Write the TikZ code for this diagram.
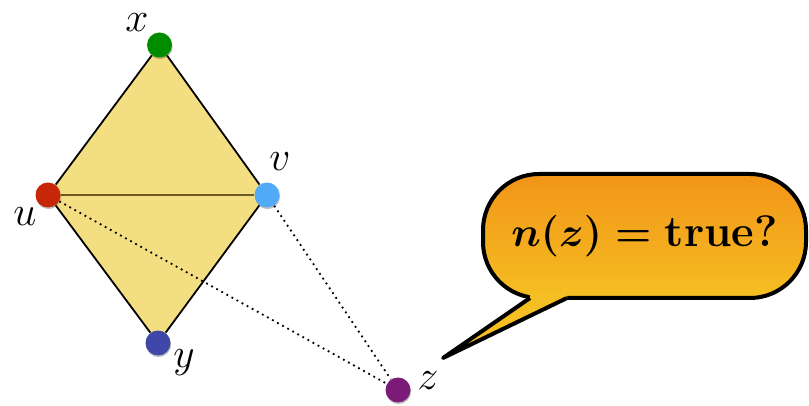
\documentclass[tikz,border=0pt]{standalone}
\usepackage{tikz}
\usetikzlibrary{positioning, calc, shadows, backgrounds}
\definecolor{kitefill}{HTML}{F3DF82}
\definecolor{midline}{HTML}{6B5B1E}
\definecolor{dotgreen}{HTML}{008C00}
\definecolor{dotred}{HTML}{C82609}
\definecolor{dotsky}{HTML}{52A9F7}
\definecolor{dotnavy}{HTML}{3F48A8}
\definecolor{dotplum}{HTML}{7B1A79}
\definecolor{bubtop}{HTML}{F29418}
\definecolor{bubbot}{HTML}{F5BE22}
\tikzset{
  vtx/.style={circle, inner sep=0pt, minimum size=12.5pt,
    drop shadow={shadow xshift=0.3pt, shadow yshift=-0.8pt, opacity=0.25, fill=black}},
  lbl/.style={font=\fontsize{21}{24}\selectfont, inner sep=0pt},
  side/.style={line width=0.9pt, draw=black},
  hint/.style={dotted, line width=0.9pt},
  bubble/.style={draw=black, line width=2pt, rounded corners=28pt,
    top color=bubtop, bottom color=bubbot, minimum width=161.5pt,
    minimum height=62pt, inner sep=0pt, outer sep=0pt,
    font=\fontsize{22}{26}\selectfont\boldmath},
}

\begin{document}
\begin{tikzpicture}[x=0.5pt, y=-0.5pt]
  \useasboundingbox (0,0) rectangle (809,406);
  % vertices
  \node[vtx, fill=dotgreen] (x) at (159.5,45) {};
  \node[vtx, fill=dotred] (u) at (48,195) {};
  \node[vtx, fill=dotsky] (v) at (267,195) {};
  \node[vtx, fill=dotnavy] (y) at (158,343) {};
  \node[vtx, fill=dotplum] (z) at (398,390) {};
  \node[lbl] (lx) at ($(x)+(-22.5,-22)$) {$x$};
  \node[lbl] (lu) at ($(u)+(-23,22)$) {$u$};
  \node[lbl] (lv) at ($(v)+(13,-33)$) {$v$};
  \node[lbl] (ly) at ($(y)+(26,20)$) {$y$};
  \node[lbl] (lz) at ($(z)+(30,-9)$) {$z$};
  \begin{scope}[on background layer]
    \fill[kitefill] (x.center) -- (v.center) -- (y.center) -- (u.center) -- cycle;
    \draw[side] (x) -- (v) -- (y) -- (u) -- (x);
    \draw[side, draw=midline] (u) -- (v);
    \draw[hint] (u) -- (z);
    \draw[hint] (v) -- (z);
  \end{scope}
  % speech bubble
  \node[bubble] (bub) at (644.5,236) {$n(z) = \mbox{\bfseries true?}$};
  \coordinate (tl) at ($(bub.south west)+(47,0)$);
  \coordinate (tr) at ($(bub.south west)+(84,0)$);
  \coordinate (tip) at (443,358);
  \fill[bubbot] ($(tl)+(0,-5)$) -- (tl) -- (tip) -- (tr) -- ($(tr)+(0,-5)$) -- cycle;
  \draw[line width=2pt, line join=round] (tl) -- (tip) -- (tr);
\end{tikzpicture}
\end{document}
